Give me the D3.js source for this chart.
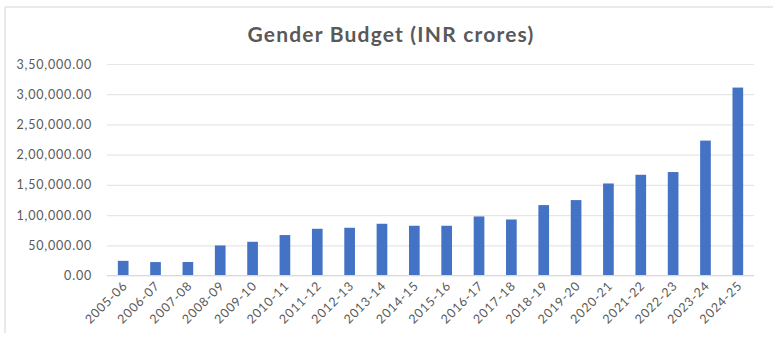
<!DOCTYPE html>
<html>
<head>
<meta charset="utf-8">
<script src="https://cdn.jsdelivr.net/npm/d3@7/dist/d3.min.js"></script>
<style>
  html, body { margin: 0; padding: 0; background: #ffffff; }
  svg { display: block; }
</style>
</head>
<body>
<svg id="chart" width="773" height="348"></svg>
<script>
const categories = ["2005-06","2006-07","2007-08","2008-09","2009-10","2010-11","2011-12","2012-13","2013-14","2014-15","2015-16","2016-17","2017-18","2018-19","2019-20","2020-21","2021-22","2022-23","2023-24","2024-25"];
const values = [24241, 22200, 22300, 49700, 55800, 66900, 77300, 79000, 85600, 82300, 82300, 97700, 92700, 116500, 124800, 152300, 166700, 171200, 223220, 310987];
const yTicks = [0, 50000, 100000, 150000, 200000, 250000, 300000, 350000];
const title = "Gender Budget (INR crores)";

const svg = d3.select("#chart");
const W = 773, H = 348;
const plot = { left: 107, right: 754, top: 64, bottom: 275.5 };
const textColor = "#595959";
const font = "Lato, 'Open Sans', sans-serif";

// chart frame (top and left edges visible)
svg.append("line").attr("x1", 5).attr("y1", 7).attr("x2", W).attr("y2", 7)
  .attr("stroke", "#e3e3e3").attr("stroke-width", 1.5);
svg.append("line").attr("x1", 5).attr("y1", 7).attr("x2", 5).attr("y2", 333)
  .attr("stroke", "#e3e3e3").attr("stroke-width", 1.5);

const x = d3.scaleBand().domain(categories).range([plot.left, plot.right])
  .paddingInner(0.67).paddingOuter(0.335);
const y = d3.scaleLinear().domain([0, 350000]).range([plot.bottom, plot.top]);

function indianFormat(v) {
  const s = Math.round(v).toString();
  let out;
  if (s.length <= 3) out = s;
  else {
    const last3 = s.slice(-3);
    let rest = s.slice(0, -3);
    const parts = [];
    while (rest.length > 2) { parts.unshift(rest.slice(-2)); rest = rest.slice(0, -2); }
    if (rest.length) parts.unshift(rest);
    out = parts.join(",") + "," + last3;
  }
  return out + ".00";
}

// gridlines
const yAxis = d3.axisLeft(y).tickValues(yTicks).tickFormat(indianFormat)
  .tickSize(-(plot.right - plot.left)).tickPadding(15);
const gy = svg.append("g").attr("transform", `translate(${plot.left},0)`).call(yAxis);
gy.select(".domain").remove();
gy.selectAll(".tick line").attr("stroke", "#e6e6e6").attr("stroke-width", 1.2);
gy.selectAll(".tick text").attr("fill", textColor).attr("font-family", font)
  .attr("font-size", "12.5px").attr("letter-spacing", "0.8px");

// bars
svg.append("g").selectAll("rect").data(values).join("rect")
  .attr("x", (d, i) => x(categories[i]))
  .attr("y", d => y(d))
  .attr("width", x.bandwidth())
  .attr("height", d => y(0) - y(d))
  .attr("fill", "#4472C4");

// x axis
const xAxis = d3.axisBottom(x).tickSize(0).tickPadding(0);
const gx = svg.append("g").attr("transform", `translate(0,${plot.bottom})`).call(xAxis);
gx.select(".domain").attr("stroke", "#d9d9d9").attr("stroke-width", 1.2)
  .attr("d", `M${plot.left},0H${plot.right}`);
gx.selectAll(".tick text")
  .attr("fill", textColor).attr("font-family", font).attr("font-size", "12.5px")
  .attr("letter-spacing", "0.8px")
  .attr("text-anchor", "end")
  .attr("dy", null).attr("y", null)
  .attr("transform", "translate(5,11) rotate(-45)");

// title
svg.append("text").attr("x", 391).attr("y", 42).attr("text-anchor", "middle")
  .attr("fill", textColor).attr("font-family", font).attr("font-weight", "bold")
  .attr("font-size", "21px").attr("letter-spacing", "1.2px").text(title);
</script>
</body>
</html>
